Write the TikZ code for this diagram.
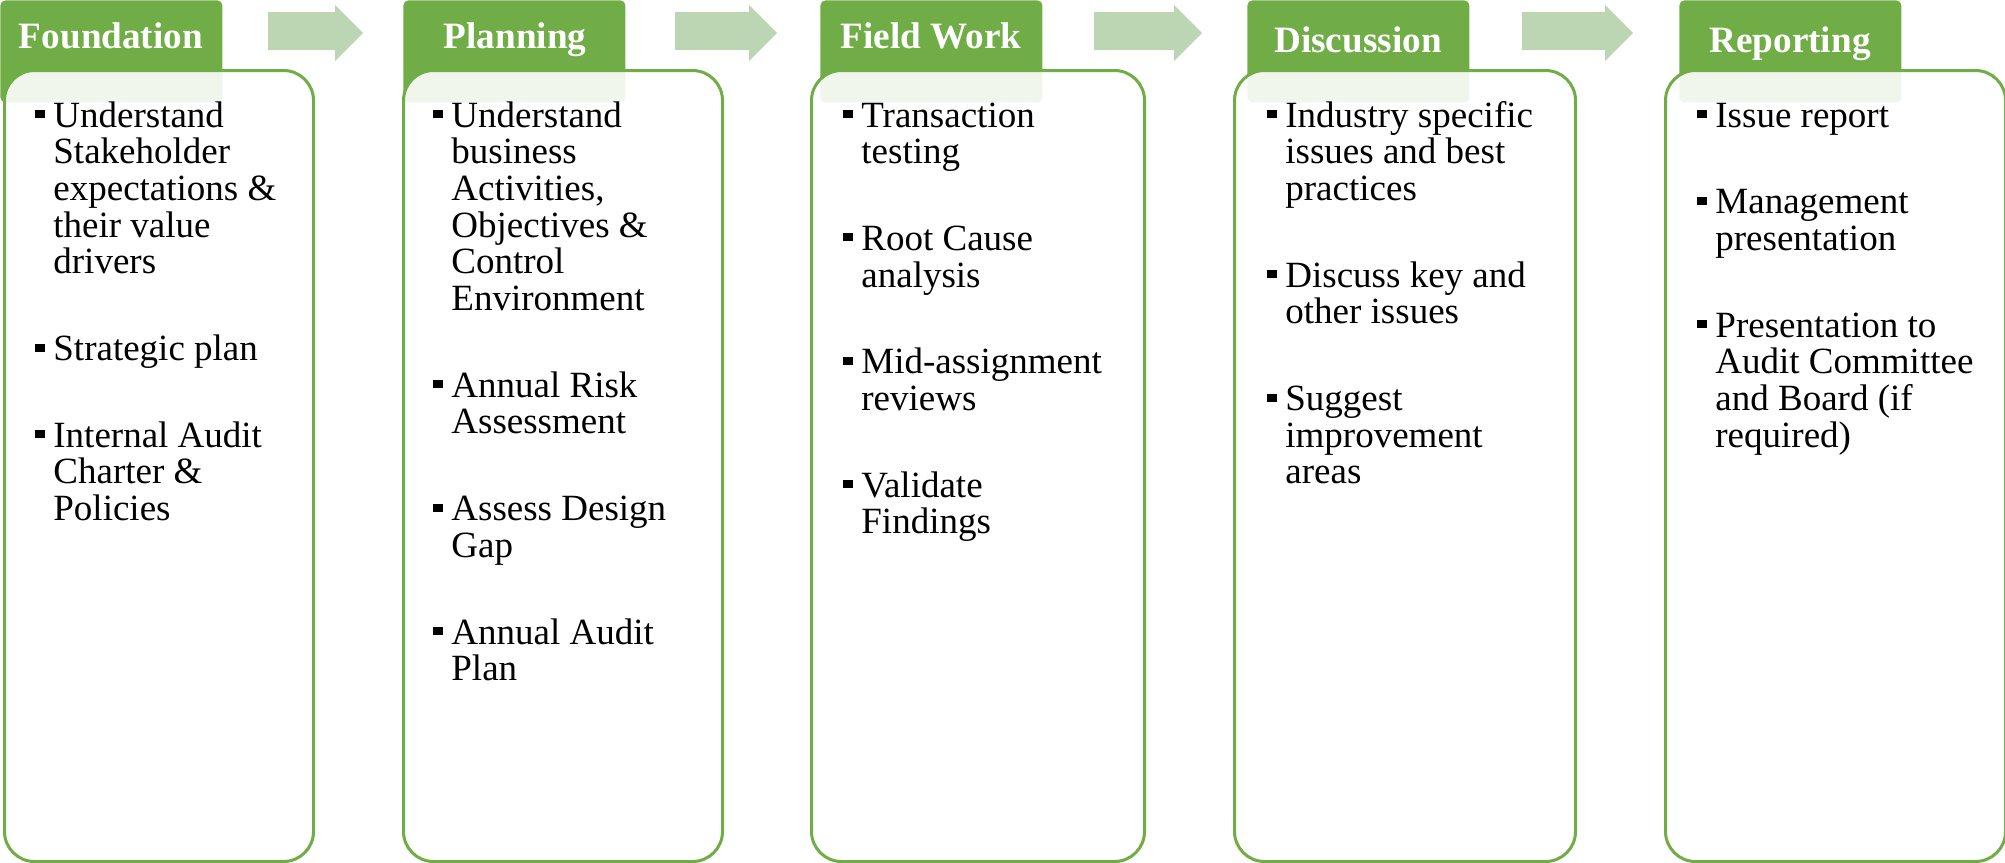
\documentclass[tikz,border=0pt]{standalone}
\usepackage{fontspec}
\setmainfont{Liberation Serif}

\definecolor{stagegreen}{HTML}{70AD47}
\definecolor{arrowgreen}{HTML}{BCD6B3}

% one bullet point, later lines hang under the text
\newcommand{\bulitem}[1]{\par\noindent\hangindent=9pt\hangafter=1%
  \makebox[9pt][l]{\rule[4.5pt]{5pt}{4pt}}#1\par}
% #1 line pitch, #2 gap between points, #3 the points
\newcommand{\itemlist}[3]{\vtop{\hsize=150pt\parindent=0pt\let\\\newline
  \parskip=#2\lineskiplimit=-100pt\baselineskip=#1\relax #3}}

\begin{document}
\begin{tikzpicture}
    [ x = 0.5pt, y = -0.5pt
    , stagetab/.style =
      { fill = stagegreen, rounded corners = 2.5pt, anchor = north west
      , inner sep = 0, minimum width = 111pt, minimum height = 51pt }
    , stagebox/.style =
      { draw = stagegreen, line width = 1.5pt, fill = white, fill opacity = .9
      , rounded corners = 15pt, anchor = north west, inner sep = 0
      , minimum height = 395.5pt }
    , stagetitle/.style =
      { text = white, anchor = base, inner sep = 0
      , font = \bfseries\fontsize{18.6pt}{20pt}\selectfont }
    , itemtext/.style =
      { anchor = base west, inner sep = 0
      , font = \fontsize{18.5pt}{18.35pt}\selectfont }
    , flowarrow/.style =
      { fill = arrowgreen }
    ]
    \useasboundingbox (0,0) rectangle (2005,862);

    \node [stagetab] (found-tab) at (0,0) {};
    \node [stagetab] (plan-tab) at (403,0) {};
    \node [stagetab] (field-tab) at (820,0) {};
    \node [stagetab] (disc-tab) at (1247,0) {};
    \node [stagetab] (rep-tab) at (1679,0) {};

    \node [stagebox, minimum width=154.5pt] (found-box) at (3,69) {};
    \node [stagebox, minimum width=159.5pt] (plan-box) at (402,69) {};
    \node [stagebox, minimum width=166.5pt] (field-box) at (810,69) {};
    \node [stagebox, minimum width=170.5pt] (disc-box) at (1233,69) {};
    \node [stagebox, minimum width=170pt] (rep-box) at (1664,69) {};

    \node [stagetitle] (found-title) at (111,48) {Foundation};
    \node [stagetitle] (plan-title) at (515,48) {Planning};
    \node [stagetitle] (field-title) at (931,48) {Field Work};
    \node [stagetitle] (disc-title) at (1358,52) {Discussion};
    \node [stagetitle] (rep-title) at (1790,52) {Reporting};

    % arrows between the tabs
    \fill [flowarrow] (268,12) -- (335,12) -- (335,5) -- (363,33) -- (335,61) -- (335,50) -- (268,50) -- cycle;
    \fill [flowarrow] (675,12) -- (749,12) -- (749,5) -- (777,33) -- (749,61) -- (749,50) -- (675,50) -- cycle;
    \fill [flowarrow] (1094,12) -- (1174,12) -- (1174,5) -- (1202,33) -- (1174,61) -- (1174,50) -- (1094,50) -- cycle;
    \fill [flowarrow] (1522,12) -- (1605,12) -- (1605,5) -- (1633,33) -- (1605,61) -- (1605,50) -- (1522,50) -- cycle;

    \node [itemtext] (found-items) at (35,127) {\itemlist{18.35pt}{25pt}{%
      \bulitem{Understand\\Stakeholder\\expectations \&\\their value\\drivers}
      \bulitem{Strategic plan}
      \bulitem{Internal Audit\\Charter \&\\Policies}}};
    \node [itemtext] (plan-items) at (433,127) {\itemlist{18.35pt}{25pt}{%
      \bulitem{Understand\\business\\Activities,\\Objectives \&\\Control\\Environment}
      \bulitem{Annual Risk\\Assessment}
      \bulitem{Assess Design\\Gap}
      \bulitem{Annual Audit\\Plan}}};
    \node [itemtext] (field-items) at (843,127) {\itemlist{18.35pt}{25pt}{%
      \bulitem{Transaction\\testing}
      \bulitem{Root Cause\\analysis}
      \bulitem{Mid-assignment\\reviews}
      \bulitem{Validate\\Findings}}};
    \node [itemtext] (disc-items) at (1267,127) {\itemlist{18.35pt}{25pt}{%
      \bulitem{Industry specific\\issues and best\\practices}
      \bulitem{Discuss key and\\other issues}
      \bulitem{Suggest\\improvement\\areas}}};
    \node [itemtext] (rep-items) at (1697,127) {\itemlist{18.35pt}{25pt}{%
      \bulitem{Issue report}
      \bulitem{Management\\presentation}
      \bulitem{Presentation to\\Audit Committee\\and Board (if\\required)}}};
\end{tikzpicture}
\end{document}
